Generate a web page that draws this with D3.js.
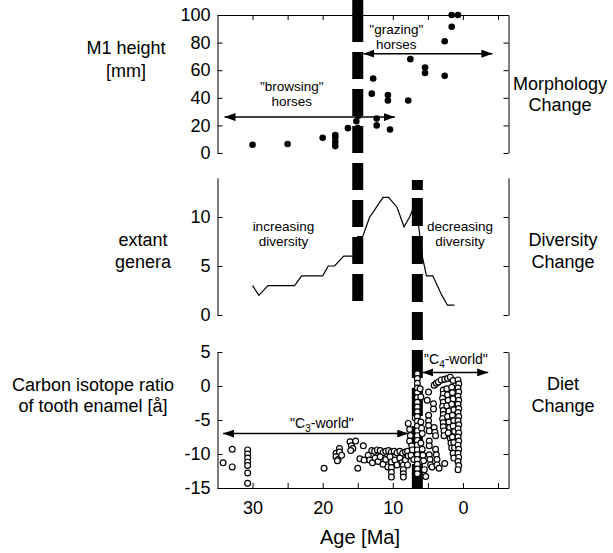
<!DOCTYPE html>
<html>
<head>
<meta charset="utf-8">
<script src="https://cdn.jsdelivr.net/npm/d3@7"></script>
<style>
  body { margin: 0; background: #fff; }
  text { font-family: "Liberation Sans", Arial, Helvetica, sans-serif; fill: #000; }
</style>
</head>
<body>
<svg id="chart"></svg>
<script>
//ticks and labels
var ageTicks = [30, 25, 20, 15, 10, 5, 0, -5];
var ageLabels = [30, 20, 10, 0];
var heightTicks = [0, 20, 40, 60, 80, 100];
var generaTicks = [0, 5, 10];
var isotopeTicks = [-15, -10, -5, 0, 5];

//ages of the two events (dashed bars)
var eventAges = [15, 6.5];

//[age Ma, M1 crown height mm]
var molarHeight = [
    [30, 6], [25, 6.5], [20, 11], [18.2, 5], [18.2, 8], [18.2, 11], [18.2, 13],
    [16.4, 18], [15.2, 3], [15.2, 7], [15.2, 11], [15.1, 15], [15, 18], [15.2, 23],
    [14.9, 27], [13, 43], [12.8, 54], [12.3, 20], [12.3, 25], [10.7, 38], [10.7, 42],
    [10.4, 17], [7.8, 38], [7.5, 68], [5.4, 58], [5.4, 62], [2.6, 56], [2.6, 81],
    [1.6, 91.5], [1.6, 100], [0.7, 100]
];

//[age Ma, number of extant genera]
var generaCount = [
    [30, 3], [29.1, 2], [27.8, 3], [24, 3], [23, 4], [20, 4], [19.2, 5], [18.3, 5],
    [17, 6], [15.6, 6], [15, 8], [14.3, 8], [13.3, 10], [12.8, 10.5], [11.4, 12],
    [10.6, 12], [9.4, 11], [8.4, 9], [7.6, 10], [7, 11], [6.3, 9], [5.8, 6], [5.2, 4],
    [4.3, 4], [3, 2], [2.2, 1], [1.2, 1]
];

//[age Ma, carbon isotope ratio]
var isotopeRatio = [
    [34.2, -11.3], [32.9, -9.3], [32.9, -11.9],
    [30.7, -9.4], [30.7, -10], [30.7, -10.6], [30.7, -11.2], [30.7, -11.7], [30.7, -12.8], [30.7, -14.3],
    [19.8, -12.1],
    [18.1, -9.9], [18.1, -10.4], [17.8, -10.8], [17.6, -9.2], [17.6, -9.7], [17.3, -10.2], [17.9, -11],
    [16.1, -8.2], [15.9, -8.8], [15.7, -9.2], [16, -9.5], [15.3, -8.1], [15, -12.1], [14.2, -8.8],
    [14.7, -10.7], [14.1, -10.9], [13.5, -10.2],
    [13, -9.5], [12.6, -9.6], [12.2, -9.4], [11.8, -9.5], [11.4, -9.8], [11, -9.6], [10.6, -9.5],
    [10.2, -9.7], [9.8, -9.6], [9.4, -9.8], [9, -9.6], [8.6, -9.9], [8.2, -9.7], [7.9, -9.6],
    [13.3, -10.9], [12.9, -11.3], [12.5, -10.6], [12.1, -11.1], [11.8, -10.4], [11.4, -11.5],
    [11, -10.8], [10.7, -11.9], [10.4, -10.4], [10.2, -11.2], [10.2, -12], [10.2, -12.7],
    [10.2, -13.4], [9.7, -10.9], [9.4, -11.6], [9, -10.6], [8.7, -11.3], [8.5, -11.6],
    [8.5, -12.3], [8.5, -12.9], [8.5, -13.4], [8.2, -10.9], [7.9, -11.6], [7.8, -10.3],
    [7.8, -5.5], [7.6, -6.4], [7.5, -7.3], [7.6, -8.1], [7.3, -8.8], [7.2, -9.4], [7.4, -10.2],
    [7, -10.8], [6.8, -4.7],
    [6.5, 1.8], [6.5, 1.1], [6.5, 0.4], [6.5, -0.3], [6.5, -1], [6.5, -1.7], [6.5, -2.4],
    [6.5, -3.1], [6.5, -3.8], [6.5, -4.5], [6.5, -5.2], [6.5, -5.9], [6.5, -6.6], [6.5, -7.3],
    [6.5, -8], [6.5, -8.7], [6.5, -9.4], [6.5, -10.1], [6.5, -10.8], [6.5, -11.5], [6.5, -12.2],
    [6.5, -12.9],
    [6, -5.3], [5.9, -6.2], [5.8, -7], [6, -8.4], [5.8, -9.3], [5.7, -10.2], [5.6, -11],
    [5.5, -12.3], [5.3, -13.3], [6.1, -0.4], [6, -1.6],
    [4.9, -0.9], [5.1, -2.1], [4.9, -4.3], [4.9, -5.1], [4.9, -5.8], [4.8, -6.6], [4.8, -8.1],
    [4.8, -8.8], [4.8, -10.1], [4.7, -10.8], [4.6, -11.6], [4.4, -11.9],
    [4.1, 0.1], [3.8, 0.4], [3.5, 0.6], [4.2, -2.6], [4.2, -3.4], [4.1, -6.1], [4, -6.8],
    [3.9, -7.3], [3.9, -9.3], [3.8, -10.1], [3.7, -10.8], [3.7, -11.6], [3.4, -12.1],
    [3.1, 0.9], [2.8, -0.6], [2.8, -1.2], [2.9, -1.8], [2.8, -2.4], [2.9, -3], [2.8, -3.6],
    [2.8, -4.2], [2.9, -4.8], [2.8, -5.4], [2.8, -6], [2.7, -6.6], [2.7, -7.3], [2.6, -11.4],
    [2.6, 1], [2.2, 1.1], [1.8, 1.3], [1.4, 0.8], [2.3, -0.4], [2.2, -1.3], [2.1, -2.1],
    [2.3, -2.9], [2, -3.7], [2.2, -4.5], [2, -5.3], [1.9, -6.1], [2.1, -6.9], [1.8, -7.7],
    [1.7, -8.4], [1.6, -9.1],
    [1.6, -0.2], [1.5, -1], [1.4, -1.9], [1.6, -2.7], [1.3, -3.5], [1.5, -4.3], [1.3, -5.1],
    [1.4, -5.9], [1.2, -6.7], [1.5, -7.5], [1.3, -8.3], [1.2, -9.1], [1.4, -9.9], [1.3, -10.6],
    [0.7, 0.9], [0.6, 0.3], [0.7, -0.3], [0.6, -0.9], [0.7, -1.5], [0.6, -2.1], [0.7, -2.7],
    [0.6, -3.3], [0.7, -3.9], [0.6, -4.5], [0.7, -5.1], [0.6, -5.7], [0.7, -6.3], [0.6, -6.9],
    [0.7, -7.5], [0.6, -8.1], [0.7, -8.7], [0.6, -9.3], [0.7, -9.9], [0.6, -10.5], [0.7, -11.1],
    [0.6, -11.7], [0.7, -12.3]
];

//double headed arrows {from age, to age, value}
var morphArrows = [{from: 34, to: 9.7, value: 26}, {from: 14.2, to: -4.2, value: 72}];
var dietArrows = [{from: 34.2, to: 7.8, value: -7}, {from: 5.8, to: -3.6, value: 2}];

var width = 613, height = 553;

var svg = d3.select('#chart')
    .attr('width', width)
    .attr('height', height);

//scales, shared age axis
var x = d3.scaleLinear().domain([35, -6.5]).range([217.5, 508.5]);
var yTop = d3.scaleLinear().domain([0, 100]).range([153, 15]);
var yMid = d3.scaleLinear().domain([0, 14]).range([315, 177.8]);
var yBot = d3.scaleLinear().domain([-15, 5]).range([488, 352]);

var left = x(35), right = x(-6.5);
var numFmt = function(d) {return String(d);};

function styleAxis(g, fontSize) {
    g.selectAll('path, line').attr('stroke', '#000').attr('stroke-width', 1);
    g.selectAll('text')
        .attr('font-family', '"Liberation Sans", Arial, sans-serif')
        .attr('font-size', fontSize)
        .attr('fill', '#000');
}

//left and right frames of the three panels
function sideAxes(scale, ticks) {
    svg.append('g')
        .attr('transform', 'translate(' + left + ',0)')
        .call(d3.axisLeft(scale).tickValues(ticks).tickSizeInner(-5).tickSizeOuter(0)
            .tickPadding(7).tickFormat(numFmt))
        .call(styleAxis, 18);
    svg.append('g')
        .attr('transform', 'translate(' + right + ',0)')
        .call(d3.axisRight(scale).tickValues(ticks).tickSizeInner(-5).tickSizeOuter(0)
            .tickFormat(''))
        .call(styleAxis, 18);
}
sideAxes(yTop, heightTicks);
sideAxes(yMid, generaTicks);
sideAxes(yBot, isotopeTicks);

//top edge of the first panel
svg.append('g')
    .attr('transform', 'translate(0,' + yTop(100) + ')')
    .call(d3.axisTop(x).tickValues(ageTicks).tickSizeInner(-5).tickSizeOuter(0).tickFormat(''))
    .call(styleAxis, 18);

//age axis at the bottom
svg.append('g')
    .attr('transform', 'translate(0,' + yBot(-15) + ')')
    .call(d3.axisBottom(x).tickValues(ageTicks).tickSizeInner(-5).tickSizeOuter(0)
        .tickPadding(13)
        .tickFormat(function(d) {return ageLabels.indexOf(d) >= 0 ? String(d) : '';}))
    .call(styleAxis, 18);

//diversity curve (sits under the dashed bars)
svg.append('path')
    .datum(generaCount)
    .attr('fill', 'none')
    .attr('stroke', '#000')
    .attr('stroke-width', 1.2)
    .attr('d', d3.line()
        .x(function(d) {return x(d[0]);})
        .y(function(d) {return yMid(d[1]);}));

//thick dashed event bars
var eventSpans = [
    {y1: 0, y2: 302, dash: '42,10,27,10,27,10,27,10,27,10,27,10,27,10,27,10'},
    {y1: 180, y2: 488, dash: '10,8,28,10,28,10,28,10,28,10,28,10,28,10,28,10,28,10'}
];
svg.append('g')
    .selectAll('line')
    .data(eventAges)
    .join('line')
    .attr('x1', function(d) {return x(d);})
    .attr('x2', function(d) {return x(d);})
    .attr('y1', function(d, i) {return eventSpans[i].y1;})
    .attr('y2', function(d, i) {return eventSpans[i].y2;})
    .attr('stroke', '#000')
    .attr('stroke-width', 11)
    .attr('stroke-dasharray', function(d, i) {return eventSpans[i].dash;});

//morphology dots
svg.append('g')
    .selectAll('circle')
    .data(molarHeight)
    .join('circle')
    .attr('cx', function(d) {return x(d[0]);})
    .attr('cy', function(d) {return yTop(d[1]);})
    .attr('r', 3.3)
    .attr('fill', '#000');

//isotope circles
svg.append('g')
    .selectAll('circle')
    .data(isotopeRatio)
    .join('circle')
    .attr('cx', function(d) {return x(d[0]);})
    .attr('cy', function(d) {return yBot(d[1]);})
    .attr('r', 2.9)
    .attr('fill', '#fff')
    .attr('stroke', '#000')
    .attr('stroke-width', 1.2);

//arrows
svg.append('defs')
    .append('marker')
    .attr('id', 'head')
    .attr('markerUnits', 'userSpaceOnUse')
    .attr('markerWidth', 12)
    .attr('markerHeight', 8)
    .attr('refX', 11)
    .attr('refY', 4)
    .attr('orient', 'auto-start-reverse')
    .append('path')
    .attr('d', 'M0,0L11,4L0,8Z')
    .attr('fill', '#000');

function drawArrows(list, yScale) {
    svg.append('g')
        .selectAll('line')
        .data(list)
        .join('line')
        .attr('x1', function(d) {return x(d.from);})
        .attr('x2', function(d) {return x(d.to);})
        .attr('y1', function(d) {return yScale(d.value);})
        .attr('y2', function(d) {return yScale(d.value);})
        .attr('stroke', '#000')
        .attr('stroke-width', 1.5)
        .attr('marker-start', 'url(#head)')
        .attr('marker-end', 'url(#head)');
}
drawArrows(morphArrows, yTop);
drawArrows(dietArrows, yBot);

//multi line text helper
function label(cx, y, lines, size, gap) {
    var t = svg.append('text')
        .attr('text-anchor', 'middle')
        .attr('font-size', size);
    lines.forEach(function(s, i) {
        t.append('tspan')
            .attr('x', cx)
            .attr('y', y + i * gap)
            .text(s);
    });
    return t;
}

//annotations inside the panels
label(x(24.4), 91, ['"browsing"', 'horses'], 13.5, 15);
label(x(9.5), 34, ['"grazing"', 'horses'], 13.5, 15);
label(x(25.6), 231, ['increasing', 'diversity'], 13.5, 15);
label(x(0.4), 231, ['decreasing', 'diversity'], 13.5, 15);

function worldLabel(cx, y, sub) {
    var t = svg.append('text')
        .attr('x', cx)
        .attr('y', y)
        .attr('text-anchor', 'middle')
        .attr('font-size', 14);
    t.append('tspan').text('"C');
    t.append('tspan').attr('font-size', 10).attr('dy', 4).text(sub);
    t.append('tspan').attr('dy', -4).text('-world"');
}
worldLabel(x(20.1), 428, '3');
worldLabel(x(1), 364, '4');

//axis titles left and right
label(126, 54, ['M1 height', '[mm]'], 18, 23);
label(143, 246, ['extant', 'genera'], 18, 22);
label(93, 391, ['Carbon isotope ratio', 'of tooth enamel [å]'], 18, 21);
label(560, 90, ['Morphology', 'Change'], 18, 21);
label(563, 246, ['Diversity', 'Change'], 18, 22);
label(563, 390, ['Diet', 'Change'], 18, 22);

svg.append('text')
    .attr('x', 360)
    .attr('y', 544)
    .attr('text-anchor', 'middle')
    .attr('font-size', 20)
    .text('Age [Ma]');
</script>
</body>
</html>
